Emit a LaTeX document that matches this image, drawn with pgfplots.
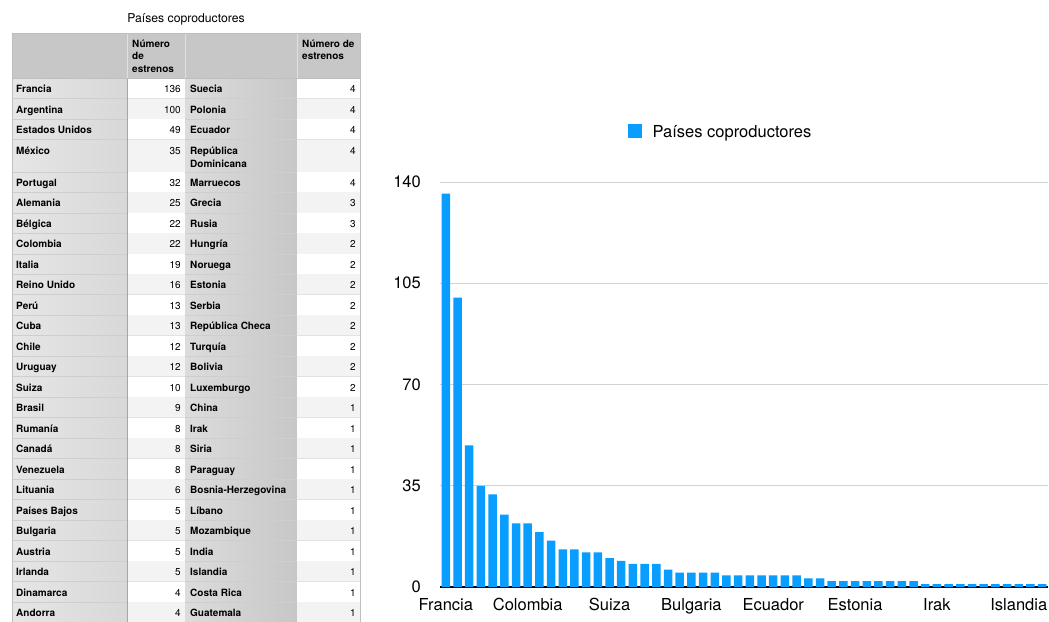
\documentclass[border=0pt]{standalone}
\usepackage{pgfplots}
\pgfplotsset{compat=1.18}
\usepackage{pgfplotstable}
\usepackage{fontspec}
\setmainfont{TeX Gyre Heros}
\definecolor{barblue}{RGB}{8,157,254}
\definecolor{hdrgray}{RGB}{199,199,199}
\definecolor{nameA}{RGB}{230,230,230}
\definecolor{nameAr}{RGB}{216,216,216}
\definecolor{nameB}{RGB}{220,220,220}
\definecolor{nameBr}{RGB}{199,199,199}
\definecolor{altrow}{RGB}{243,243,243}
\definecolor{rowlineG}{RGB}{206,206,206}
\definecolor{rowlineW}{RGB}{226,226,226}
\definecolor{gridgray}{RGB}{210,210,210}

\pgfplotstableread{
idx val
0 136
1 100
2 49
3 35
4 32
5 25
6 22
7 22
8 19
9 16
10 13
11 13
12 12
13 12
14 10
15 9
16 8
17 8
18 8
19 6
20 5
21 5
22 5
23 5
24 4
25 4
26 4
27 4
28 4
29 4
30 4
31 3
32 3
33 2
34 2
35 2
36 2
37 2
38 2
39 2
40 2
41 1
42 1
43 1
44 1
45 1
46 1
47 1
48 1
49 1
50 1
51 1
}\datacopro

\begin{document}
\begin{tikzpicture}
\path[use as bounding box] (0pt,0pt) rectangle (1049pt,-621pt);
\begin{scope}[x=1pt,y=-1pt]
  \node[anchor=base, inner sep=0pt, font=\fontsize{12.2}{14}\selectfont] at (186,22) {Países coproductores};
  % header
  \fill[hdrgray] (12,33) rectangle (360,78);
  % name columns
  \shade[left color=nameA, right color=nameAr] (12,78) rectangle (127,625);
  \shade[left color=nameB, right color=nameBr] (185,78) rectangle (297,625);
  \foreach \k/\na/\va/\nb/\vb in {0/Francia/136/Suecia/4,1/Argentina/100/Polonia/4,2/Estados Unidos/49/Ecuador/4,3/México/35/República/4,4/Portugal/32/Marruecos/4,5/Alemania/25/Grecia/3,6/Bélgica/22/Rusia/3,7/Colombia/22/Hungría/2,8/Italia/19/Noruega/2,9/Reino Unido/16/Estonia/2,10/Perú/13/Serbia/2,11/Cuba/13/República Checa/2,12/Chile/12/Turquía/2,13/Uruguay/12/Bolivia/2,14/Suiza/10/Luxemburgo/2,15/Brasil/9/China/1,16/Rumanía/8/Irak/1,17/Canadá/8/Siria/1,18/Venezuela/8/Paraguay/1,19/Lituania/6/Bosnia-Herzegovina/1,20/Países Bajos/5/Líbano/1,21/Bulgaria/5/Mozambique/1,22/Austria/5/India/1,23/Irlanda/5/Islandia/1,24/Dinamarca/4/Costa Rica/1,25/Andorra/4/Guatemala/1}{
    \pgfmathsetmacro{\rt}{\k<4 ? 78+20.5*\k : 172+(\k-4)*20.48}
    \pgfmathsetmacro{\rb}{\k<3 ? 78+20.5*(\k+1) : 172+(\k-3)*20.48}
    \pgfmathtruncatemacro{\odd}{mod(\k,2)}
    \ifnum\odd=1 \def\numcol{altrow}\else\def\numcol{white}\fi
    \fill[\numcol] (127,\rt) rectangle (185,\rb);
    \fill[\numcol] (297,\rt) rectangle (360,\rb);
    \draw[rowlineG, line width=0.8pt] (12,\rb) -- (127,\rb);
    \draw[rowlineW, line width=0.8pt] (127,\rb) -- (185,\rb);
    \draw[rowlineG, line width=0.8pt] (185,\rb) -- (297,\rb);
    \draw[rowlineW, line width=0.8pt] (297,\rb) -- (360,\rb);
    \node[anchor=base west, inner sep=0pt, font=\bfseries\fontsize{10}{12}\selectfont] at (16,\rt+14.5) {\na};
    \node[anchor=base east, inner sep=0pt, font=\fontsize{10}{12}\selectfont] at (181,\rt+14.5) {\va};
    \node[anchor=base west, inner sep=0pt, font=\bfseries\fontsize{10}{12}\selectfont] at (190,\rt+14.5) {\nb};
    \node[anchor=base east, inner sep=0pt, font=\fontsize{10}{12}\selectfont] at (356,\rt+14.5) {\vb};
  }
  \node[anchor=base west, inner sep=0pt, font=\bfseries\fontsize{10}{12}\selectfont] at (190,167) {Dominicana};
  % header texts
  \begin{scope}[every node/.style={anchor=base west, inner sep=0pt, font=\bfseries\fontsize{10}{12}\selectfont}]
    \node at (132,47) {Número};
    \node at (132,59.5) {de};
    \node at (132,72) {estrenos};
    \node at (302,47) {Número de};
    \node at (302,59.5) {estrenos};
  \end{scope}
  % vertical lines
  \draw[color=black!35, line width=0.8pt] (127,78) -- (127,625);
  \draw[color=black!12, line width=0.6pt] (127,33) -- (127,78) (185,33) -- (185,78) (297,33) -- (297,78);
  \draw[color=black!25, line width=0.6pt] (12,625) -- (12,33) -- (360,33) -- (360,625);
  \draw[color=black!25, line width=0.8pt] (12,78) -- (360,78);
\end{scope}

\begin{axis}[
  at={(440pt,-587pt)}, anchor=south west,
  scale only axis, width=608pt, height=405pt,
  xmin=-0.5, xmax=51.5, ymin=0, ymax=140,
  ytick={0,35,70,105,140},
  xtick={0,7,14,21,28,35,42,49},
  xticklabels={Francia,Colombia,Suiza,Bulgaria,Ecuador,Estonia,Irak,Islandia},
  axis x line*=bottom, axis y line*=left,
  x axis line style={black, line width=1.5pt, -},
  y axis line style={draw=none},
  major tick length=0pt,
  ymajorgrids, grid style={gridgray, line width=1pt},
  ticklabel style={font=\fontsize{16.5}{18}\selectfont},
  /pgf/number format/assume math mode=true,
  yticklabel style={inner sep=0pt, xshift=-19pt},
  xticklabel style={anchor=base, inner sep=0pt, yshift=-23pt},
  legend style={at={(axis description cs:0.3092,1.1222)}, anchor=west, draw=none, fill=none, inner sep=0pt, font=\fontsize{16.5}{18}\selectfont, column sep=8.5pt},
  legend image code/.code={\fill[barblue] (0pt,-5pt) rectangle (14pt,9pt);},
]
\addplot[ybar, bar width=8.5pt, fill=barblue, draw=none] table[x=idx,y=val]{\datacopro};
\addlegendentry{Países coproductores}
\end{axis}
\end{tikzpicture}
\end{document}
